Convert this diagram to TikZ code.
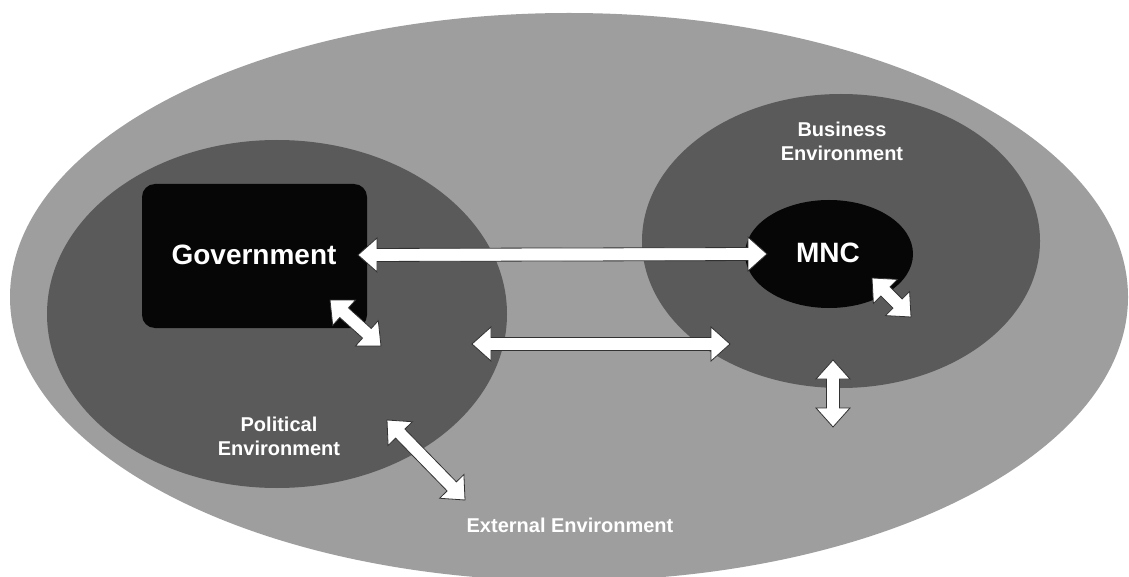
\documentclass[tikz,border=0pt]{standalone}
\usepackage{fontspec}
\setmainfont{Liberation Sans}
\usetikzlibrary{calc}
\definecolor{outergray}{RGB}{158,158,158}
\definecolor{innergray}{RGB}{90,90,90}
\definecolor{nearblack}{RGB}{6,6,6}
\definecolor{arrowedge}{RGB}{50,50,50}
\newcommand\blockarrow[2]{%
  \draw[blockarr]
    (#1)
    -- ($(#1)!\arrhead!(#2)!\arrhw!90:(#2)$)
    -- ($(#1)!\arrhead!(#2)!\arrsw!90:(#2)$)
    -- ($(#2)!\arrhead!(#1)!\arrsw!-90:(#1)$)
    -- ($(#2)!\arrhead!(#1)!\arrhw!-90:(#1)$)
    -- (#2)
    -- ($(#2)!\arrhead!(#1)!\arrhw!90:(#1)$)
    -- ($(#2)!\arrhead!(#1)!\arrsw!90:(#1)$)
    -- ($(#1)!\arrhead!(#2)!\arrsw!-90:(#2)$)
    -- ($(#1)!\arrhead!(#2)!\arrhw!-90:(#2)$)
    -- cycle;}
\def\arrhead{19pt}
\def\arrhw{17pt}
\def\arrsw{6.5pt}
\tikzset{
  blockarr/.style={fill=white, draw=arrowedge, line width=0.8pt, line join=miter},
  lbl/.style={text=white, font=\bfseries\fontsize{20}{24}\selectfont, align=center, inner sep=0pt},
  biglbl/.style={text=white, font=\bfseries\fontsize{28}{32}\selectfont, inner sep=0pt},
}
\begin{document}
\begin{tikzpicture}[x=1pt,y=-1pt]
\useasboundingbox (0,0) rectangle (1129,577);
\clip (0,0) rectangle (1129,577);
\fill[white] (0,0) rectangle (1129,577);
% regions
\fill[outergray] (569,297) ellipse [x radius=559, y radius=284];
\fill[innergray] (277,314) ellipse [x radius=230, y radius=174];
\fill[innergray] (841,241) ellipse [x radius=199, y radius=147];
\fill[nearblack] (829,254) ellipse [x radius=84, y radius=54];
\fill[nearblack, rounded corners=13pt] (142,184) rectangle (367,328);
% labels
\node[biglbl] (gov) at (254,255) {Government};
\node[biglbl] (mnc) at (828,253) {MNC};
\node[lbl] (bus) at (842,141) {Business\\Environment};
\node[lbl] (pol) at (279,436) {Political\\Environment};
\node[lbl] (ext) at (570,525) {External Environment};
% arrow end points
\coordinate (g1) at (358,255);
\coordinate (m1) at (767,254);
\coordinate (p1) at (472,344);
\coordinate (b1) at (730,344);
\coordinate (g2) at (330,300);
\coordinate (p2) at (381,346);
\coordinate (p3) at (387,420);
\coordinate (e1) at (465,500);
\coordinate (m2) at (872,278);
\coordinate (b2) at (911,317);
\coordinate (b3) at (833,360);
\coordinate (e2) at (833,427);
% arrows
\blockarrow{g1}{m1}
\blockarrow{p1}{b1}
\blockarrow{g2}{p2}
\blockarrow{p3}{e1}
\blockarrow{m2}{b2}
\blockarrow{b3}{e2}
\end{tikzpicture}
\end{document}
